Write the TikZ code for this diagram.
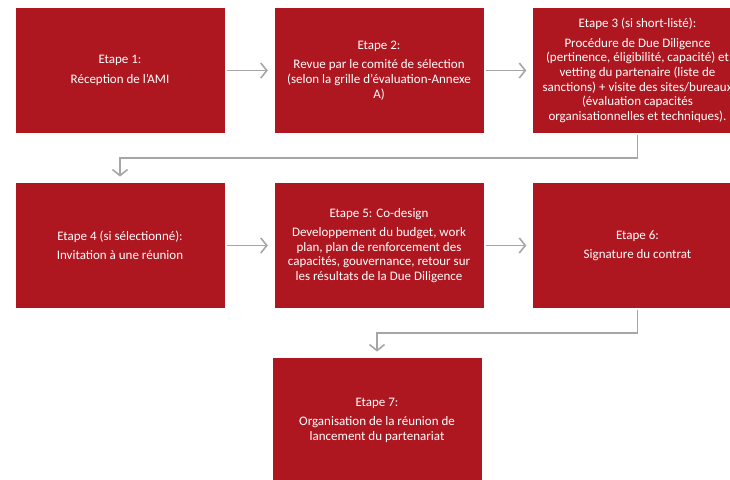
\documentclass[tikz,border=0pt]{standalone}
\usepackage{fontspec}
\setmainfont{Carlito}
\usetikzlibrary{math,arrows.meta}
\definecolor{etaperouge}{RGB}{175,23,32}
\definecolor{flechegris}{RGB}{166,166,166}

\begin{document}
\begin{tikzpicture}[x=1pt, y=-1pt,
    etape/.style={fill=etaperouge, text=white, minimum width=209pt, minimum height=124.5pt,
      inner sep=0pt, align=center, font=\fontsize{13}{14.7}\selectfont},
    fleche/.style={draw=flechegris, line width=1.6pt,
      -{Straight Barb[length=6pt, width=15pt, line width=1.6pt]}, shorten <=2.5pt, shorten >=6.5pt}]
    \tikzmath{\colA = 120; \colB = 379; \colC = 637.5; \rowA = 70.5; \rowB = 245.5; \rowC = 420.5; \bas = 25;}
    \clip (0,0) rectangle (730,479);

    \node[etape] (E1) at (\colA, \rowA) {Etape 1:\\[4.6pt]R\'eception de l'AMI};
    \node[etape] (E2) at (\colB, \rowA) {Etape 2:\\[4.6pt]Revue par le comit\'e de s\'election\\(selon la grille d'\'evaluation-Annexe\\A)};
    \node[etape] (E3) at (\colC, \rowA) {Etape 3 (si short-list\'e):\\[4.6pt]Proc\'edure de Due Diligence\\(pertinence, \'eligibilit\'e, capacit\'e) et\\vetting du partenaire (liste de\\sanctions) + visite des sites/bureaux\\(\'evaluation capacit\'es\\organisationnelles et techniques).};

    \node[etape] (E4) at (\colA, \rowB) {Etape 4 (si s\'electionn\'e):\\[4.6pt]Invitation \`a une r\'eunion};
    \node[etape] (E5) at (\colB, \rowB) {Etape 5: Co-design\\[4.6pt]Developpement du budget, work\\plan, plan de renforcement des\\capacit\'es, gouvernance, retour sur\\les r\'esultats de la Due Diligence};
    \node[etape] (E6) at (\colC, \rowB) {Etape 6:\\[4.6pt]Signature du contrat};

    \node[etape] (E7) at (\colB - 2, \rowC) {Etape 7:\\[4.6pt]Organisation de la r\'eunion de\\lancement du partenariat};

    \draw[fleche] (E1)--(E2);
    \draw[fleche] (E2)--(E3);
    \draw[fleche, shorten <=2pt] (E3.south) -- ++(0,\bas) -| (E4.north);
    \draw[fleche] (E4)--(E5);
    \draw[fleche] (E5)--(E6);
    \draw[fleche, shorten <=2pt] (E6.south) -- ++(0,\bas) -| (E7.north);
\end{tikzpicture}
\end{document}
